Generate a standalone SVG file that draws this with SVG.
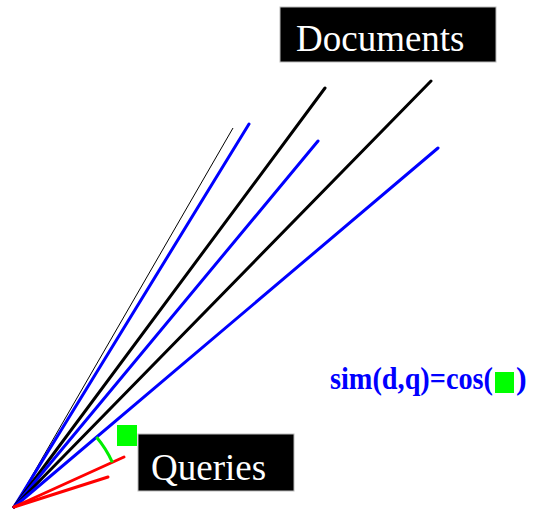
<svg xmlns="http://www.w3.org/2000/svg" width="533" height="509" viewBox="0 0 533 509">
<style>
.b{stroke:#0000ff;stroke-width:3;fill:none;stroke-linecap:round}
.k{stroke:#000;stroke-width:3;fill:none;stroke-linecap:round}
.r{stroke:#ff0000;stroke-width:3;fill:none;stroke-linecap:round}
.lbl{fill:#000;stroke:#bbb;stroke-width:1}
.lt{font-size:37px;fill:#fff}
</style>
<rect width="533" height="509" fill="#fff"/>
<g id="connectors">
<line x1="14" y1="507" x2="233" y2="128" stroke="#000" stroke-width="1"/>
<line class="b" x1="14" y1="507" x2="249" y2="124"/>
<line class="k" x1="14" y1="507" x2="325" y2="88"/>
<line class="b" x1="14" y1="507" x2="318" y2="141"/>
<line class="k" x1="14" y1="507" x2="431" y2="81"/>
<line class="b" x1="14" y1="507" x2="438" y2="148"/>
<line class="r" x1="14" y1="507" x2="124" y2="457"/>
<line class="r" x1="14" y1="507" x2="108" y2="477"/>
<path d="M96.4 437 A108 108 0 0 1 112.4 462.4" stroke="#00ee00" stroke-width="3" fill="none"/>
</g>
<g id="angle-marker"><rect x="117" y="425" width="20" height="21" fill="#00ff00"/></g>
<g id="documents"><rect class="lbl" x="280" y="7" width="216" height="55"/><text class="lt" font-family="Liberation Serif, Times New Roman, serif" x="296" y="51">Documents</text></g>
<g id="queries"><rect class="lbl" x="138" y="434" width="156" height="57"/><text class="lt" font-family="Liberation Serif, Times New Roman, serif" x="151" y="480">Queries</text></g>
<g id="formula"><text x="330" y="389" font-family="Liberation Serif, serif" font-weight="bold" font-size="32" fill="#0000ff" textLength="163" lengthAdjust="spacingAndGlyphs">sim(d,q)=cos(</text><rect x="495" y="372" width="19" height="21" fill="#00ff00"/><text x="516" y="389" font-family="Liberation Serif, serif" font-weight="bold" font-size="32" fill="#0000ff">)</text></g>
</svg>
